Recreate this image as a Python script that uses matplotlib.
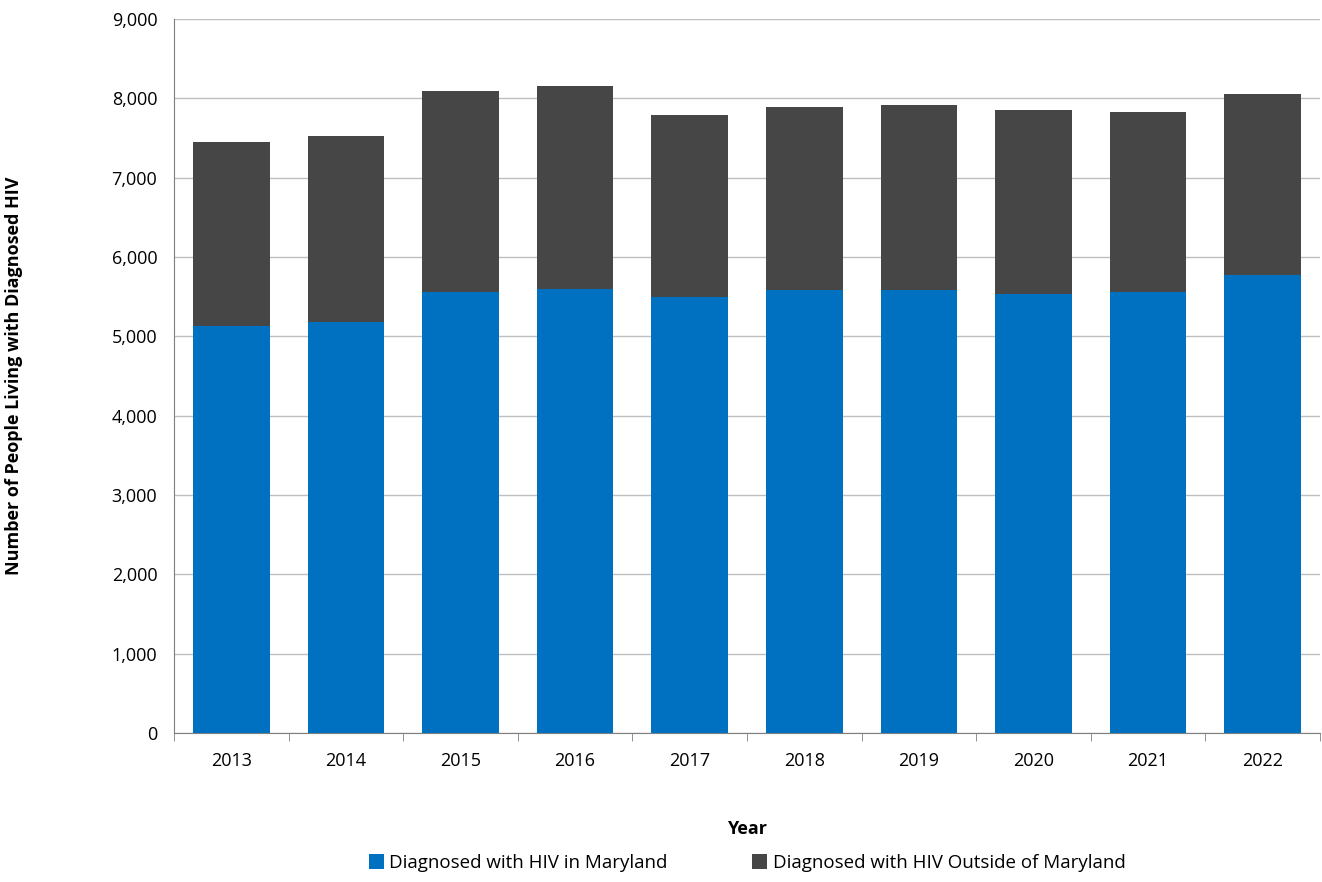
import matplotlib
matplotlib.use("Agg")
import matplotlib.pyplot as plt
from matplotlib.ticker import FuncFormatter, MultipleLocator

years = ["2013","2014","2015","2016","2017","2018","2019","2020","2021","2022"]
in_md = [5130,5180,5559,5597,5496,5584,5584,5534,5559,5773]
total = [7450,7525,8093,8156,7790,7891,7916,7853,7828,8055]
outside = [t-i for t,i in zip(total,in_md)]

plt.rcParams['font.family'] = ['Open Sans','DejaVu Sans']
fig = plt.figure(figsize=(13.22,8.82), dpi=100)
ax = fig.add_axes([174/1322, 1-733/882, (1320-174)/1322, (733-19)/882])
x = range(len(years))
ax.bar(x, in_md, width=0.67, color='#0070C0', label='Diagnosed with HIV in Maryland', zorder=3)
ax.bar(x, outside, bottom=in_md, width=0.67, color='#464646', label='Diagnosed with HIV Outside of Maryland', zorder=3)
ax.set_ylim(0,9000)
ax.set_xlim(-0.5, len(years)-0.5)
ax.yaxis.set_major_locator(MultipleLocator(1000))
ax.yaxis.set_major_formatter(FuncFormatter(lambda v,p: f"{int(v):,}"))
ax.grid(axis='y', color='#BFBFBF', lw=1, zorder=0)
ax.set_xticks(list(x)); ax.set_xticklabels(years)
ax.set_xticks([i-0.5 for i in range(len(years)+1)], minor=True)
ax.tick_params(axis='x', which='major', length=0, pad=14, labelsize=13)
ax.tick_params(axis='x', which='minor', length=6, color='#7F7F7F')
ax.tick_params(axis='y', length=0, labelsize=13, pad=12)
ax.spines['top'].set_visible(False)
ax.spines['right'].set_visible(False)
ax.spines['left'].set_color('#7F7F7F')
ax.spines['bottom'].set_color('#7F7F7F')
ax.set_xlabel('Year', fontsize=13, fontweight='bold', labelpad=36)
ax.set_ylabel('Number of People Living with Diagnosed HIV', fontsize=13, fontweight='bold', labelpad=64)
fig.legend(loc='lower center', bbox_to_anchor=(0.565,-0.008), ncol=2, frameon=False, fontsize=13.5,
           handlelength=0.8, handleheight=0.8, columnspacing=4.5, handletextpad=0.3)
fig.savefig('out.png', dpi=100)
